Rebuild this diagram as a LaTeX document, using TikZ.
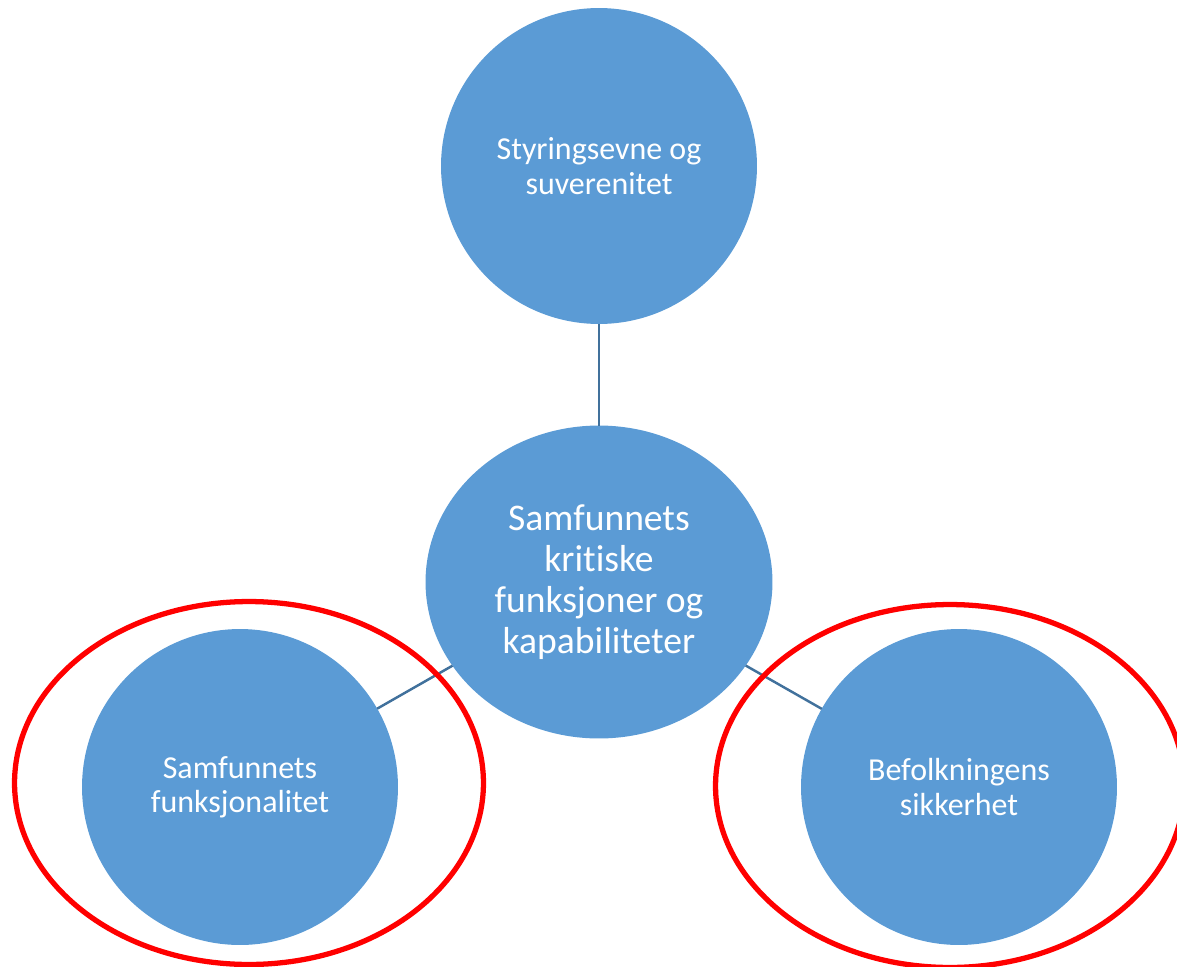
\documentclass[tikz,border=0pt]{standalone}
\usepackage{fontspec}
\setmainfont[Ligatures=NoCommon]{Carlito}
\usetikzlibrary{shapes.geometric}
\definecolor{bubblecolor}{HTML}{5B9BD5}
\definecolor{linkcolor}{HTML}{41719C}
\colorlet{markcolor}{red}
\tikzset{bubblebase/.style={shape=ellipse, inner sep=0pt, outer sep=0pt, fill=bubblecolor, text=white, align=center},%
    bubble/.style={bubblebase, minimum width=6.32cm, minimum height=6.32cm, font=\fontsize{18.2}{19.5}\selectfont},%
    corebubble/.style={bubblebase, minimum width=6.94cm, minimum height=6.26cm, font=\fontsize{21.4}{23.3}\selectfont},%
    markring/.style={shape=ellipse, draw=markcolor, line width=3pt, minimum width=9.38cm, minimum height=7.26cm},%
    conn/.style={-, line width=1.4pt, color=linkcolor}%
}
\begin{document}
\begin{tikzpicture}[x=0.02cm, y=-0.02cm]
            \useasboundingbox (0,0) rectangle (1177,967);
            \begin{scope} %draw vertices
                \node[corebubble] (core) at (599,582) {Samfunnets\\kritiske\\funksjoner og\\kapabiliteter};
                \node[bubble] (top) at (599,166) {Styringsevne og\\suverenitet};
                \node[bubble] (left) at (240,787) {Samfunnets\\funksjonalitet};
                \node[bubble] (right) at (959,787) {Befolkningens\\sikkerhet};
            \end{scope}
            \begin{scope} %draw connections
                \path (core) edge[conn] (top);
                \path (core) edge[conn] (left);
                \path (core) edge[conn] (right);
            \end{scope}
            \begin{scope} %red markings
                \node[markring] (leftring) at (249,783) {};
                \node[markring] (rightring) at (950,786) {};
            \end{scope}
\end{tikzpicture}
\end{document}
